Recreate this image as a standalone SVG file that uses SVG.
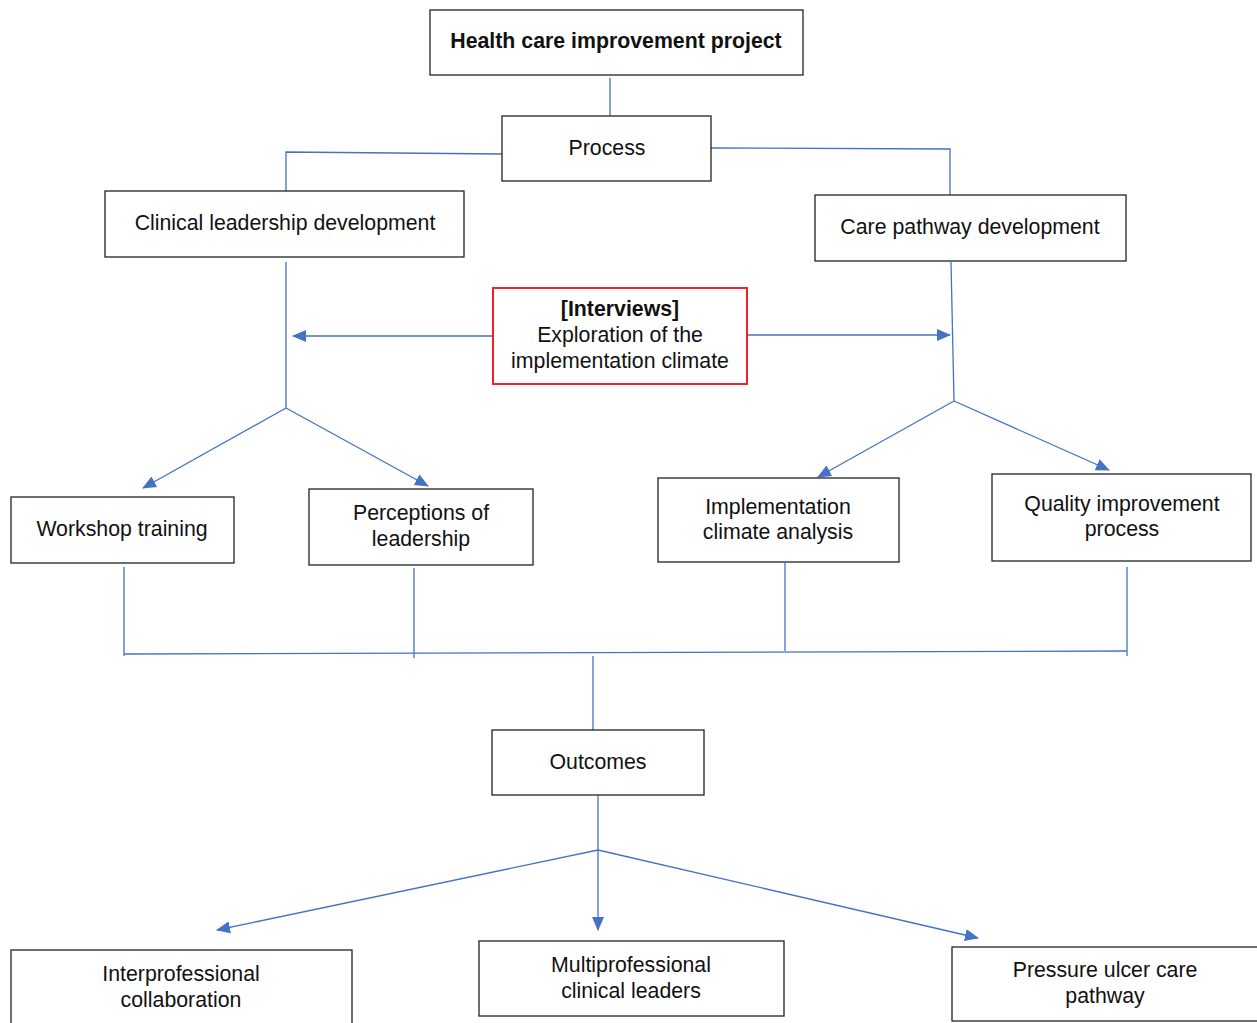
<svg xmlns="http://www.w3.org/2000/svg" width="1257" height="1023" viewBox="0 0 1257 1023">
<style>
.box{fill:#fff;stroke:#222;stroke-width:1.3}
.red{fill:#fff;stroke:#e8262c;stroke-width:2}
.t{font-family:"Liberation Sans",Arial,sans-serif;font-size:21.3px;fill:#111;text-anchor:middle}
.b{font-weight:bold}
.c{fill:none;stroke:#4472c4;stroke-width:1.3}
</style>
<defs>
<marker id="ah" markerUnits="userSpaceOnUse" markerWidth="14" markerHeight="14" viewBox="0 0 14 14" refX="13" refY="7" orient="auto">
<path d="M0,1 L14,7 L0,13 Z" fill="#4472c4"/>
</marker>
</defs>
<g id="connectors">
<line class="c" x1="610" y1="78" x2="610" y2="116"/>
<polyline class="c" points="502,154 286,152 286,191"/>
<polyline class="c" points="711,148 950,149 950,195"/>
<line class="c" x1="286" y1="262" x2="286" y2="408"/>
<line class="c" x1="951" y1="262" x2="954" y2="401"/>
<line class="c" x1="493" y1="336" x2="293" y2="336" marker-end="url(#ah)"/>
<line class="c" x1="747" y1="335" x2="950" y2="335" marker-end="url(#ah)"/>
<line class="c" x1="286" y1="408" x2="143" y2="488" marker-end="url(#ah)"/>
<line class="c" x1="286" y1="408" x2="428" y2="486" marker-end="url(#ah)"/>
<line class="c" x1="954" y1="401" x2="818" y2="477" marker-end="url(#ah)"/>
<line class="c" x1="954" y1="401" x2="1109" y2="470" marker-end="url(#ah)"/>
<line class="c" x1="124" y1="567" x2="124" y2="656"/>
<line class="c" x1="414" y1="568" x2="414" y2="658"/>
<line class="c" x1="785" y1="563" x2="785" y2="651"/>
<line class="c" x1="1127" y1="567" x2="1127" y2="656"/>
<line class="c" x1="124" y1="654" x2="1127" y2="651" stroke-width="2"/>
<line class="c" x1="593" y1="656" x2="593" y2="730"/>
<line class="c" x1="598" y1="795" x2="598" y2="850"/>
<line class="c" x1="598" y1="850" x2="217" y2="930" marker-end="url(#ah)"/>
<line class="c" x1="598" y1="850" x2="598" y2="930" marker-end="url(#ah)"/>
<line class="c" x1="598" y1="850" x2="978" y2="938" marker-end="url(#ah)"/>
</g>
<g id="n-project"><rect class="box" x="430" y="10" width="373" height="65"/><text class="t b" x="616" y="48">Health care improvement project</text></g>
<g id="n-process"><rect class="box" x="502" y="116" width="209" height="65"/><text class="t" x="607" y="155">Process</text></g>
<g id="n-clinical"><rect class="box" x="105" y="191" width="359" height="66"/><text class="t" x="285" y="230">Clinical leadership development</text></g>
<g id="n-care"><rect class="box" x="815" y="195" width="311" height="66"/><text class="t" x="970" y="234">Care pathway development</text></g>
<g id="n-interviews"><rect class="red" x="493" y="288" width="254" height="96"/>
<text class="t b" x="620" y="316">[Interviews]</text>
<text class="t" x="620" y="342">Exploration of the</text>
<text class="t" x="620" y="368">implementation climate</text></g>
<g id="n-workshop"><rect class="box" x="11" y="497" width="223" height="66"/><text class="t" x="122" y="536">Workshop training</text></g>
<g id="n-perceptions"><rect class="box" x="309" y="489" width="224" height="76"/><text class="t" x="421" y="520">Perceptions of</text><text class="t" x="421" y="546">leadership</text></g>
<g id="n-implementation"><rect class="box" x="658" y="478" width="241" height="84"/><text class="t" x="778" y="514">Implementation</text><text class="t" x="778" y="539">climate analysis</text></g>
<g id="n-quality"><rect class="box" x="992" y="474" width="259" height="87"/><text class="t" x="1122" y="511">Quality improvement</text><text class="t" x="1122" y="536">process</text></g>
<g id="n-outcomes"><rect class="box" x="492" y="730" width="212" height="65"/><text class="t" x="598" y="769">Outcomes</text></g>
<g id="n-interprof"><rect class="box" x="11" y="950" width="341" height="80"/><text class="t" x="181" y="981">Interprofessional</text><text class="t" x="181" y="1007">collaboration</text></g>
<g id="n-multiprof"><rect class="box" x="479" y="941" width="305" height="75"/><text class="t" x="631" y="972">Multiprofessional</text><text class="t" x="631" y="998">clinical leaders</text></g>
<g id="n-pressure"><rect class="box" x="952" y="947" width="310" height="74"/><text class="t" x="1105" y="977">Pressure ulcer care</text><text class="t" x="1105" y="1003">pathway</text></g>
</svg>
